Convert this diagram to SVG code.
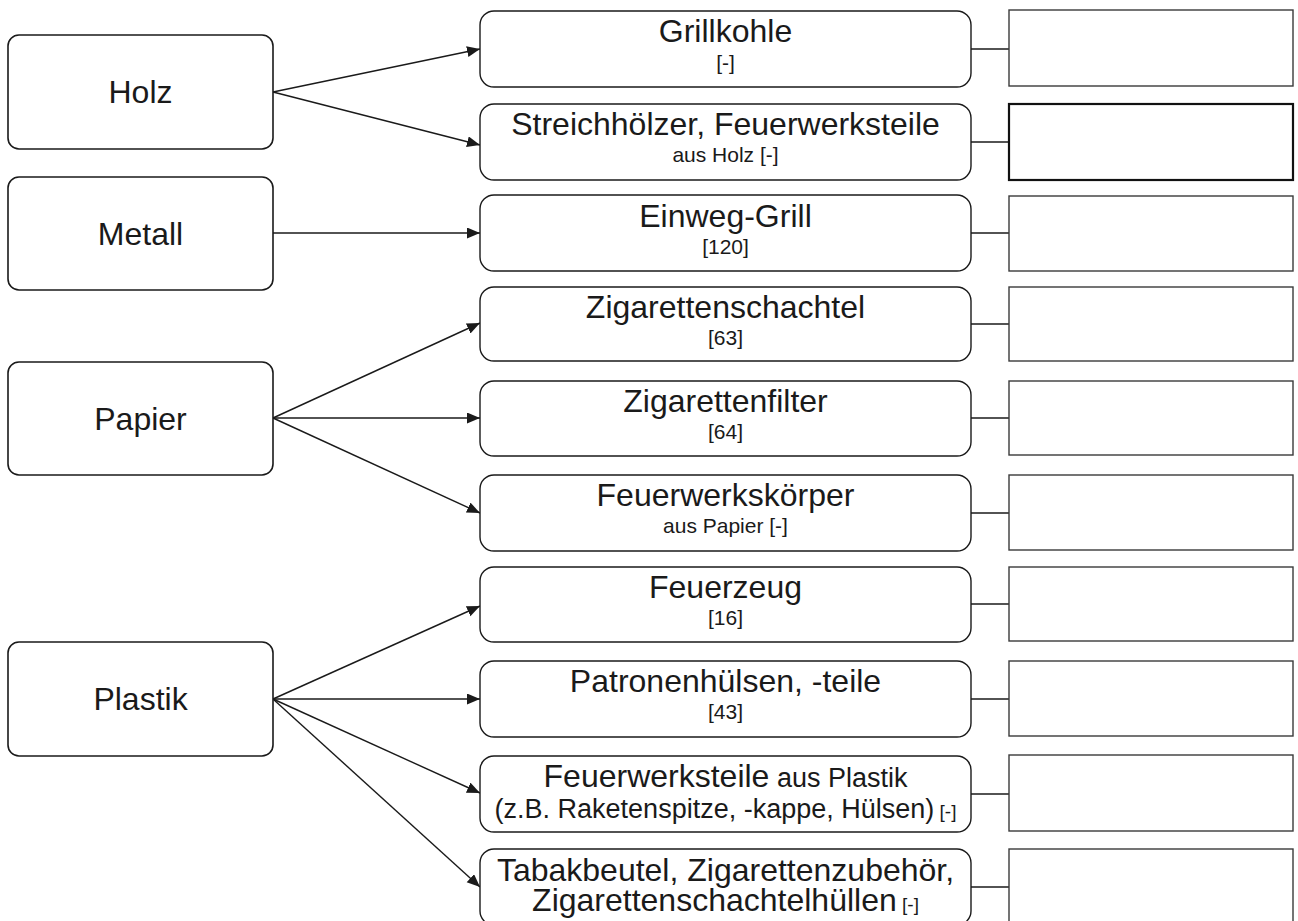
<svg xmlns="http://www.w3.org/2000/svg" width="1298" height="921" viewBox="0 0 1298 921">
<style>
.src rect{fill:#fff;stroke:#1a1a1a;stroke-width:1.6}
.mid rect{fill:#fff;stroke:#1a1a1a;stroke-width:1.4}
.out rect{fill:#fff;stroke:#3a3a3a;stroke-width:1.4}
text{font-family:"Liberation Sans",Arial,sans-serif;fill:#1a1a1a;text-anchor:middle}
.big{font-size:32px}
.sm{font-size:21px}
.md{font-size:27px}
.conn line{stroke:#1a1a1a;stroke-width:1.4}
</style>
<defs>
<marker id="ah" markerUnits="userSpaceOnUse" markerWidth="14" markerHeight="12" refX="13" refY="5.5" orient="auto">
<path d="M0,0 L13,5.5 L0,11 z" fill="#1a1a1a"/>
</marker>
</defs>
<rect width="1298" height="921" fill="#fff"/>

<g id="connectors" class="conn">
<line x1="273" y1="92" x2="480" y2="49" marker-end="url(#ah)"/>
<line x1="273" y1="92" x2="480" y2="145" marker-end="url(#ah)"/>
<line x1="273" y1="233" x2="480" y2="233" marker-end="url(#ah)"/>
<line x1="273" y1="418" x2="480" y2="323" marker-end="url(#ah)"/>
<line x1="273" y1="418" x2="480" y2="418" marker-end="url(#ah)"/>
<line x1="273" y1="418" x2="480" y2="513" marker-end="url(#ah)"/>
<line x1="273" y1="699" x2="480" y2="606" marker-end="url(#ah)"/>
<line x1="273" y1="699" x2="480" y2="699" marker-end="url(#ah)"/>
<line x1="273" y1="699" x2="480" y2="793" marker-end="url(#ah)"/>
<line x1="273" y1="699" x2="480" y2="887" marker-end="url(#ah)"/>
<line x1="971" y1="49" x2="1009" y2="49"/>
<line x1="971" y1="142" x2="1009" y2="142"/>
<line x1="971" y1="233" x2="1009" y2="233"/>
<line x1="971" y1="324" x2="1009" y2="324"/>
<line x1="971" y1="418" x2="1009" y2="418"/>
<line x1="971" y1="513" x2="1009" y2="513"/>
<line x1="971" y1="604" x2="1009" y2="604"/>
<line x1="971" y1="699" x2="1009" y2="699"/>
<line x1="971" y1="794" x2="1009" y2="794"/>
<line x1="971" y1="887" x2="1009" y2="887"/>
</g>

<g id="holz" class="src"><rect x="8" y="35" width="265" height="114" rx="11"/><text class="big" x="140.5" y="103">Holz</text></g>
<g id="metall" class="src"><rect x="8" y="177" width="265" height="113" rx="11"/><text class="big" x="140.5" y="245">Metall</text></g>
<g id="papier" class="src"><rect x="8" y="362" width="265" height="113" rx="11"/><text class="big" x="140.5" y="430">Papier</text></g>
<g id="plastik" class="src"><rect x="8" y="642" width="265" height="114" rx="11"/><text class="big" x="140.5" y="710">Plastik</text></g>

<g id="grillkohle" class="mid"><rect x="480" y="11" width="491" height="76" rx="14"/><text class="big" x="725.5" y="42">Grillkohle</text><text class="sm" x="725.5" y="70">[-]</text></g>
<g id="streichhoelzer" class="mid"><rect x="480" y="104" width="491" height="76" rx="14"/><text class="big" x="725.5" y="135">Streichhölzer, Feuerwerksteile</text><text class="sm" x="725.5" y="162">aus Holz [-]</text></g>
<g id="einweggrill" class="mid"><rect x="480" y="195" width="491" height="76" rx="14"/><text class="big" x="725.5" y="227">Einweg-Grill</text><text class="sm" x="725.5" y="254">[120]</text></g>
<g id="zigarettenschachtel" class="mid"><rect x="480" y="287" width="491" height="74" rx="14"/><text class="big" x="725.5" y="318">Zigarettenschachtel</text><text class="sm" x="725.5" y="345">[63]</text></g>
<g id="zigarettenfilter" class="mid"><rect x="480" y="381" width="491" height="75" rx="14"/><text class="big" x="725.5" y="412">Zigarettenfilter</text><text class="sm" x="725.5" y="439">[64]</text></g>
<g id="feuerwerkskoerper" class="mid"><rect x="480" y="475" width="491" height="76" rx="14"/><text class="big" x="725.5" y="506">Feuerwerkskörper</text><text class="sm" x="725.5" y="533">aus Papier [-]</text></g>
<g id="feuerzeug" class="mid"><rect x="480" y="567" width="491" height="75" rx="14"/><text class="big" x="725.5" y="598">Feuerzeug</text><text class="sm" x="725.5" y="625">[16]</text></g>
<g id="patronen" class="mid"><rect x="480" y="661" width="491" height="76" rx="14"/><text class="big" x="725.5" y="692">Patronenhülsen, -teile</text><text class="sm" x="725.5" y="719">[43]</text></g>
<g id="feuerwerksteile" class="mid"><rect x="480" y="756" width="491" height="76" rx="14"/><text x="725.5" y="787"><tspan class="big">Feuerwerksteile</tspan><tspan class="md"> aus Plastik</tspan></text><text x="725.5" y="818"><tspan class="md">(z.B. Raketenspitze, -kappe, Hülsen)</tspan><tspan class="sm" style="font-size:19px"> [-]</tspan></text></g>
<g id="tabakbeutel" class="mid"><rect x="480" y="849" width="491" height="76" rx="14"/><text class="big" x="725.5" y="881">Tabakbeutel, Zigarettenzubehör,</text><text x="725.5" y="911"><tspan class="big">Zigarettenschachtelhüllen</tspan><tspan class="sm" style="font-size:19px"> [-]</tspan></text></g>

<g id="out1" class="out"><rect x="1009" y="10" width="284" height="76"/></g>
<g id="out2" class="out"><rect x="1009" y="104" width="284" height="76" style="stroke:#111;stroke-width:2.2"/></g>
<g id="out3" class="out"><rect x="1009" y="196" width="284" height="75"/></g>
<g id="out4" class="out"><rect x="1009" y="287" width="284" height="74"/></g>
<g id="out5" class="out"><rect x="1009" y="381" width="284" height="74"/></g>
<g id="out6" class="out"><rect x="1009" y="475" width="284" height="75"/></g>
<g id="out7" class="out"><rect x="1009" y="567" width="284" height="74"/></g>
<g id="out8" class="out"><rect x="1009" y="661" width="284" height="75"/></g>
<g id="out9" class="out"><rect x="1009" y="755" width="284" height="76"/></g>
<g id="out10" class="out"><rect x="1009" y="849" width="284" height="76"/></g>
</svg>
